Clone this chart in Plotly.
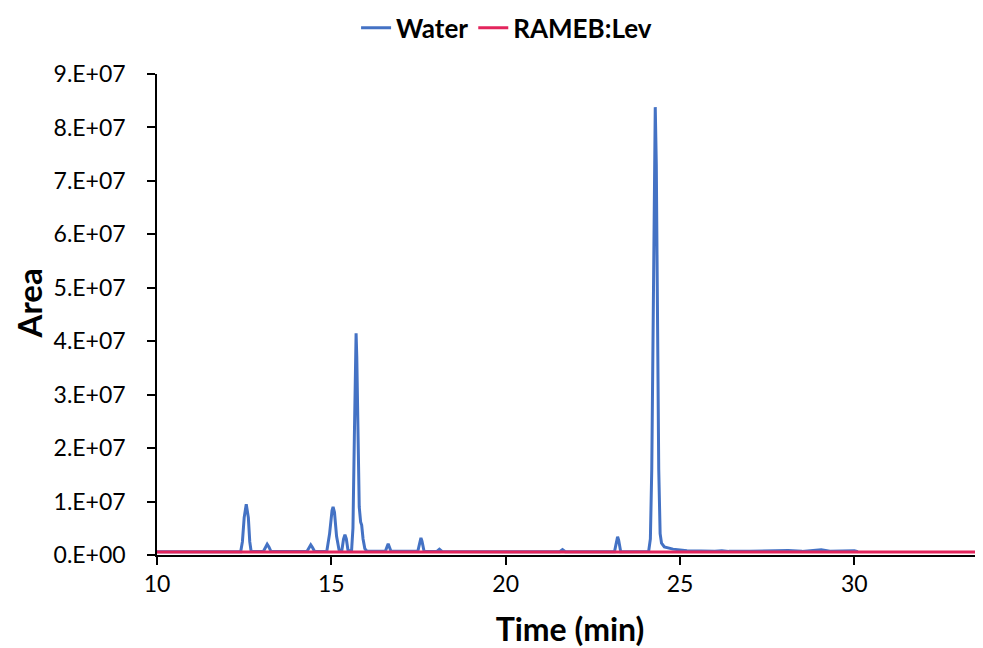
import plotly.graph_objects as go

# Water trace (time in min, area)
water_t = [10.0, 11.0, 12.0, 12.40, 12.45, 12.50, 12.56, 12.62, 12.66, 12.70,
           13.05, 13.11, 13.16, 13.21, 13.27,
           14.30, 14.36, 14.41, 14.46, 14.52,
           14.87, 14.95, 15.02, 15.05, 15.09, 15.15, 15.22, 15.30, 15.35, 15.39, 15.43, 15.48,
           15.58, 15.62, 15.66, 15.69, 15.71, 15.73, 15.76, 15.80, 15.84, 15.87, 15.91, 15.96, 16.02,
           16.55, 16.60, 16.63, 16.66, 16.71,
           17.48, 17.54, 17.57, 17.60, 17.66,
           18.02, 18.10, 18.18, 19.0, 20.0, 21.0, 21.55, 21.63, 21.71,
           23.12, 23.18, 23.21, 23.24, 23.30,
           24.10, 24.15, 24.19, 24.23, 24.26, 24.29, 24.32, 24.35, 24.39, 24.43, 24.47, 24.55,
           24.8, 25.2, 25.6, 26.0, 26.2, 26.4, 27.0, 27.4,
           27.8, 28.1, 28.5, 29.05, 29.3, 29.8, 30.0, 30.1]
water_y = [6.0e5, 6.2e5, 6.0e5, 6.2e5, 2.5e6, 7.0e6, 9.5e6, 7.0e6, 2.5e6, 6.5e5,
           6.5e5, 1.5e6, 2.0e6, 1.5e6, 6.5e5,
           6.5e5, 1.4e6, 1.9e6, 1.4e6, 6.5e5,
           7.0e5, 4.0e6, 8.3e6, 9.0e6, 8.0e6, 3.5e6, 1.0e6, 8.0e5, 3.0e6, 3.8e6, 3.0e6, 8.0e5,
           8.0e5, 5.0e6, 2.2e7, 3.7e7, 4.15e7, 3.7e7, 2.2e7, 9.0e6, 6.2e6, 5.6e6, 3.0e6, 1.2e6, 7.0e5,
           7.0e5, 1.6e6, 2.1e6, 1.6e6, 7.0e5,
           7.0e5, 2.6e6, 3.2e6, 2.6e6, 7.0e5,
           6.5e5, 1.1e6, 6.5e5, 6.2e5, 6.0e5, 6.0e5, 6.0e5, 1.0e6, 6.0e5,
           6.0e5, 2.8e6, 3.4e6, 2.8e6, 6.0e5,
           6.5e5, 3.0e6, 1.6e7, 4.5e7, 7.3e7, 8.38e7, 7.3e7, 4.5e7, 1.6e7, 4.0e6, 2.2e6, 1.5e6,
           1.1e6, 8.0e5, 7.0e5, 7.0e5, 8.0e5, 6.8e5, 7.0e5, 7.5e5,
           8.0e5, 8.5e5, 6.8e5, 1.0e6, 7.0e5, 7.0e5, 8.0e5, 6.0e5]

# RAMEB:Lev trace
rameb_t = [10.0, 12.0, 14.0, 16.0, 18.0, 20.0, 22.0, 24.0, 26.0, 28.0, 30.0, 32.0, 34.0]
rameb_y = [5.6e5, 5.7e5, 5.6e5, 5.8e5, 5.6e5, 5.5e5, 5.6e5, 5.6e5, 5.5e5, 5.6e5, 5.5e5, 5.5e5, 5.5e5]

x_ticks = [10, 15, 20, 25, 30]
y_ticks = [0, 1e7, 2e7, 3e7, 4e7, 5e7, 6e7, 7e7, 8e7, 9e7]
y_tick_text = ["0.E+00", "1.E+07", "2.E+07", "3.E+07", "4.E+07", "5.E+07",
               "6.E+07", "7.E+07", "8.E+07", "9.E+07"]

FONT = "Lato"

fig = go.Figure()
fig.add_trace(go.Scatter(x=water_t, y=water_y, mode="lines", name="Water",
                         line=dict(color="#4472C4", width=3)))
fig.add_trace(go.Scatter(x=rameb_t, y=rameb_y, mode="lines", name="RAMEB:Lev",
                         line=dict(color="#E3245C", width=3)))

fig.update_layout(
    width=975, height=640,
    margin=dict(l=149, r=0, t=66, b=93, autoexpand=False),
    paper_bgcolor="white", plot_bgcolor="white",
    font=dict(family=FONT, color="black", size=20),
    showlegend=True,
    legend=dict(orientation="h", xref="container", yref="container",
                x=0.357, y=0.969, xanchor="left", yanchor="middle",
                font=dict(family=FONT, size=26, color="black", weight="bold"),
                itemwidth=30, traceorder="normal"),
    xaxis=dict(range=[10, 33.69], tickvals=x_ticks, ticks="outside", ticklen=8,
               tickcolor="black", tickwidth=1.5, showline=True, linecolor="black",
               linewidth=1.5, showgrid=False, zeroline=False, automargin=False,
               tickfont=dict(family=FONT, size=23),
               title=dict(text="Time (min)", standoff=25,
                          font=dict(family=FONT, size=32, weight="bold"))),
    yaxis=dict(range=[0, 9e7], tickvals=y_ticks, ticktext=y_tick_text,
               ticks="outside", ticklen=8, tickcolor="black", tickwidth=1.5,
               showline=True, linecolor="black", linewidth=1.5, showgrid=False,
               zeroline=False, automargin=False, ticklabelstandoff=17,
               tickfont=dict(family=FONT, size=23)),
    annotations=[dict(text="<b>Area</b>", textangle=-90, xref="paper", yref="paper",
                      x=0, y=0.523, xanchor="center", yanchor="middle", xshift=-128,
                      showarrow=False, font=dict(family=FONT, size=33, color="black"))],
)

fig.write_html("out.html")
